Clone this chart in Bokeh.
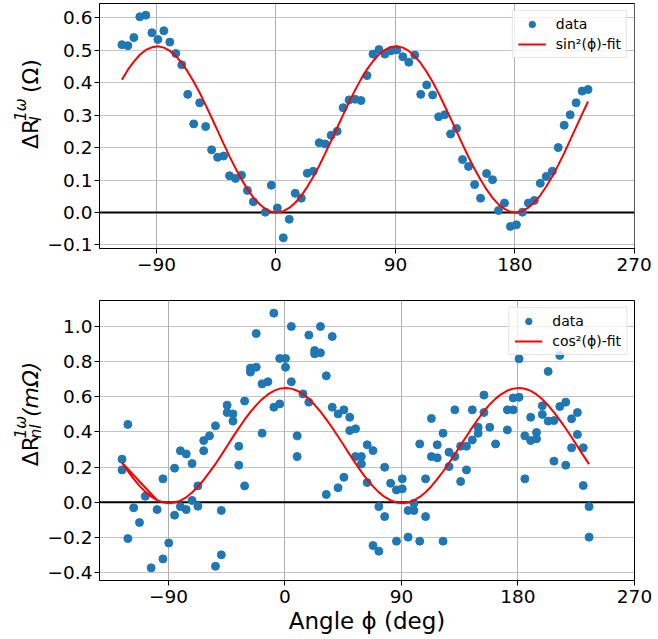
import math
from bokeh.plotting import figure
from bokeh.layouts import column, row
from bokeh.models import Span, Legend, LegendItem, FixedTicker, CustomJSTickFormatter
from bokeh.core.properties import value
from bokeh.embed import file_html
from bokeh.resources import INLINE

# ---------------- data: top panel ----------------
top_angle = [-116.1, -111.6, -107.1, -102.6, -98.1, -93.5, -89.0, -84.5, -80.0, -75.5,
             -71.0, -66.5, -62.0, -57.5, -53.0, -48.5, -44.0, -39.5, -35.0, -30.5,
             -26.0, -21.5, -17.0, -8.0, -3.5, 1.0, 5.5, 10.0, 14.5, 19.1,
             23.6, 28.1, 32.6, 37.1, 41.6, 46.1, 50.6, 55.1, 59.6, 64.1,
             68.6, 73.1, 77.6, 82.1, 86.6, 91.1, 95.6, 100.1, 104.6, 109.1,
             113.6, 118.1, 122.6, 127.1, 131.6, 136.1, 140.6, 145.1, 149.7, 154.2,
             158.7, 163.2, 167.7, 172.2, 176.7, 181.2, 185.7, 190.2, 194.7, 199.2,
             203.7, 208.2, 212.7, 217.2, 221.7, 226.2, 230.7, 235.2]
top_value = [0.517, 0.514, 0.539, 0.603, 0.608, 0.554, 0.533, 0.560, 0.525, 0.490,
             0.455, 0.364, 0.273, 0.338, 0.265, 0.193, 0.170, 0.174, 0.113, 0.105,
             0.115, 0.068, 0.033, 0.001, 0.084, 0.014, -0.078, -0.021, 0.059, 0.044,
             0.121, 0.127, 0.215, 0.211, 0.238, 0.250, 0.323, 0.347, 0.349, 0.345,
             0.422, 0.488, 0.502, 0.488, 0.498, 0.501, 0.480, 0.463, 0.485, 0.364,
             0.393, 0.362, 0.295, 0.301, 0.242, 0.259, 0.163, 0.142, 0.086, 0.044,
             0.120, 0.101, 0.006, 0.029, -0.043, -0.038, 0.001, 0.029, 0.037, 0.090,
             0.111, 0.127, 0.200, 0.269, 0.301, 0.338, 0.374, 0.379]
top_fit_angle = [-116.1, -111.6, -107.1, -102.6, -98.1, -93.5, -89.0, -84.5, -80.0, -75.5,
                 -71.0, -66.5, -62.0, -57.5, -53.0, -48.5, -44.0, -39.5, -35.0, -30.5,
                 -26.0, -21.5, -17.0, -12.5, -8.0, -3.5, 1.0, 5.5, 10.0, 14.5,
                 19.1, 23.6, 28.1, 32.6, 37.1, 41.6, 46.1, 50.6, 55.1, 59.6,
                 64.1, 68.6, 73.1, 77.6, 82.1, 86.6, 91.1, 95.6, 100.1, 104.6,
                 109.1, 113.6, 118.1, 122.6, 127.1, 131.6, 136.1, 140.6, 145.1, 149.7,
                 154.2, 158.7, 163.2, 167.7, 172.2, 176.7, 181.2, 185.7, 190.2, 194.7,
                 199.2, 203.7, 208.2, 212.7, 217.2, 221.7, 226.2, 230.7, 235.2]
top_fit = [0.409, 0.440, 0.465, 0.486, 0.501, 0.509, 0.512, 0.508, 0.498, 0.482,
           0.461, 0.434, 0.403, 0.369, 0.331, 0.292, 0.252, 0.212, 0.173, 0.136,
           0.102, 0.072, 0.046, 0.026, 0.011, 0.002, 0.000, 0.004, 0.014, 0.030,
           0.052, 0.079, 0.110, 0.144, 0.182, 0.221, 0.261, 0.301, 0.340, 0.377,
           0.411, 0.441, 0.466, 0.487, 0.501, 0.510, 0.512, 0.508, 0.498, 0.481,
           0.460, 0.433, 0.402, 0.367, 0.329, 0.290, 0.250, 0.210, 0.171, 0.134,
           0.101, 0.071, 0.045, 0.025, 0.011, 0.002, 0.000, 0.004, 0.015, 0.031,
           0.053, 0.080, 0.111, 0.146, 0.183, 0.223, 0.263, 0.303, 0.342]

# ---------------- data: bottom panel ----------------
bottom_angle = [-125.9, -125.9, -121.4, -121.4, -116.9, -112.4, -107.9, -103.4, -98.8, -94.3,
                -94.3, -89.8, -85.3, -85.3, -80.8, -80.8, -76.3, -76.3, -71.8, -71.8,
                -67.3, -67.3, -62.8, -62.8, -58.3, -53.7, -53.7, -49.2, -49.2, -44.7,
                -44.7, -40.2, -40.2, -35.7, -35.7, -31.2, -31.2, -26.7, -26.7, -22.2,
                -22.2, -17.7, -17.7, -13.2, -8.6, -8.6, -4.1, -4.1, 0.4, 0.4,
                4.9, 4.9, 9.4, 9.4, 13.9, 18.4, 18.4, 22.9, 22.9, 27.4,
                27.4, 31.9, 31.9, 36.5, 36.5, 41.0, 41.0, 45.5, 45.5, 50.0,
                50.0, 54.5, 54.5, 59.0, 59.0, 63.5, 63.5, 68.0, 68.0, 72.5,
                72.5, 77.0, 77.0, 81.6, 86.1, 86.1, 90.6, 90.6, 95.1, 95.1,
                99.6, 99.6, 104.1, 104.1, 108.6, 108.6, 113.1, 113.1, 117.6, 117.6,
                122.1, 122.1, 126.7, 126.7, 131.2, 131.2, 135.7, 135.7, 140.2, 140.2,
                144.7, 144.7, 149.2, 149.2, 153.7, 153.7, 158.2, 162.7, 171.8, 171.8,
                176.3, 176.3, 180.8, 180.8, 185.3, 185.3, 189.8, 189.8, 194.3, 194.3,
                198.8, 198.8, 203.3, 203.3, 207.8, 207.8, 212.3, 212.3, 216.9, 216.9,
                221.4, 221.4, 225.9, 225.9, 230.4, 230.4, 234.9, 234.9]
bottom_value = [0.245, 0.184, 0.443, -0.207, -0.032, -0.116, 0.034, -0.374, -0.042, 0.133,
                -0.323, -0.232, 0.194, -0.074, 0.293, -0.025, 0.275, -0.042, 0.220, 0.010,
                0.093, -0.023, 0.351, 0.293, 0.378, 0.435, -0.365, -0.047, -0.300, 0.553,
                0.511, 0.503, 0.462, 0.319, 0.211, 0.576, 0.093, 0.764, 0.741, 0.769,
                0.961, 0.674, 0.393, 0.686, 1.077, 0.541, 0.560, 0.819, 0.819, 0.769,
                1.001, 0.686, 0.378, 0.260, 0.617, 0.570, 0.952, 0.864, 0.845, 0.851,
                1.001, 0.720, 0.044, 0.944, 0.541, 0.503, 0.082, 0.526, 0.142, 0.484,
                0.408, 0.418, 0.260, 0.260, 0.218, 0.327, 0.112, 0.294, -0.247, -0.025,
                -0.279, 0.199, -0.082, 0.108, 0.070, -0.222, 0.133, 0.076, -0.047, -0.199,
                -0.006, -0.047, 0.332, -0.222, 0.133, -0.082, 0.477, 0.260, 0.327, 0.253,
                0.393, -0.222, 0.285, 0.203, 0.526, 0.260, 0.319, 0.118, 0.319, 0.184,
                0.526, 0.355, 0.427, 0.393, 0.610, 0.511, 0.427, 0.332, 0.526, 0.412,
                0.594, 0.526, 0.817, 0.598, 0.378, 0.133, 0.484, 0.351, 0.397, 0.361,
                0.549, 0.500, 0.745, 0.462, 0.234, 0.465, 0.836, 0.545, 0.570, 0.211,
                0.475, 0.310, 0.511, 0.386, 0.310, 0.095, -0.025, -0.199]
bottom_fit_angle = [-98.8, -125.9, -121.4, -116.9, -112.4, -107.9, -103.4, -98.8, -94.3, -89.8,
                    -85.3, -80.8, -76.3, -71.8, -67.3, -62.8, -58.3, -53.7, -49.2, -44.7,
                    -40.2, -35.7, -31.2, -26.7, -22.2, -17.7, -13.2, -8.6, -4.1, 0.4,
                    4.9, 9.4, 13.9, 18.4, 22.9, 27.4, 31.9, 36.5, 41.0, 45.5,
                    50.0, 54.5, 59.0, 63.5, 68.0, 72.5, 77.0, 81.6, 86.1, 90.6,
                    95.1, 99.6, 104.1, 108.6, 113.1, 117.6, 122.1, 126.7, 131.2, 135.7,
                    140.2, 144.7, 149.2, 153.7, 158.2, 162.7, 167.2, 171.8, 176.3, 180.8,
                    185.3, 189.8, 194.3, 198.8, 203.3, 207.8, 212.3, 216.9, 221.4, 225.9,
                    230.4, 234.9]
bottom_fit = [0.011, 0.225, 0.177, 0.133, 0.093, 0.059, 0.032, 0.011, -0.001, -0.006,
              -0.002, 0.009, 0.028, 0.055, 0.088, 0.127, 0.171, 0.218, 0.268, 0.320,
              0.372, 0.422, 0.470, 0.514, 0.553, 0.587, 0.614, 0.634, 0.647, 0.651,
              0.647, 0.635, 0.616, 0.589, 0.555, 0.516, 0.472, 0.424, 0.374, 0.323,
              0.271, 0.221, 0.173, 0.129, 0.090, 0.056, 0.030, 0.010, -0.002, -0.006,
              -0.002, 0.010, 0.030, 0.057, 0.091, 0.131, 0.175, 0.223, 0.273, 0.325,
              0.376, 0.426, 0.474, 0.518, 0.557, 0.590, 0.616, 0.636, 0.647, 0.651,
              0.646, 0.634, 0.614, 0.586, 0.552, 0.512, 0.468, 0.420, 0.370, 0.318,
              0.267, 0.217]

x_ticks = [-90, 0, 90, 180, 270]
top_y_ticks = [-0.1, 0.0, 0.1, 0.2, 0.3, 0.4, 0.5, 0.6]
bottom_y_ticks = [-0.4, -0.2, 0.0, 0.2, 0.4, 0.6, 0.8, 1.0]

top_x_range = (-133.0, 270.2)
top_y_range = (-0.111, 0.644)
bottom_x_range = (-143.3, 270.0)
bottom_y_range = (-0.446, 1.149)

FONT = "DejaVu Sans"
BLUE = "#1f77b4"
LW = 44              # width of the strip holding the y-axis title
BL, FW, BR = 53, 537, 20
W = BL + FW + BR     # width of each plotting figure
X_BASE = 29.5        # baseline of the rotated y title inside the strip


def make_fig(xr, yr, height, btop, bbot, yticks):
    p = figure(width=W, height=height, x_range=xr, y_range=yr,
               output_backend="svg", toolbar_location=None,
               min_border_left=BL, min_border_right=BR,
               min_border_top=btop, min_border_bottom=bbot)
    p.background_fill_color = "white"
    p.border_fill_color = "white"
    p.outline_line_color = "black"
    p.outline_line_width = 1
    p.outline_line_alpha = 1.0
    p.xaxis.ticker = FixedTicker(ticks=x_ticks)
    p.yaxis.ticker = FixedTicker(ticks=yticks)
    p.xgrid.ticker = FixedTicker(ticks=x_ticks)
    p.ygrid.ticker = FixedTicker(ticks=yticks)
    p.xaxis.formatter = CustomJSTickFormatter(code="return tick.toFixed(0).replace('-', '\u2212');")
    p.yaxis.formatter = CustomJSTickFormatter(code="return tick.toFixed(1).replace('-', '\u2212');")
    for ax in (p.xaxis[0], p.yaxis[0]):
        ax.axis_line_color = "black"
        ax.major_tick_line_color = "black"
        ax.major_tick_out = 5
        ax.major_tick_in = 0
        ax.minor_tick_line_color = None
        ax.major_label_text_font = FONT
        ax.major_label_text_font_size = "18.5px"
        ax.major_label_text_color = "black"
    p.xaxis.major_label_standoff = 4
    p.yaxis.major_label_standoff = 2
    for g in (p.xgrid[0], p.ygrid[0]):
        g.grid_line_color = "#b0b0b0"
        g.grid_line_width = 1
    p.ygrid.grid_line_alpha = 0.75
    return p


def make_title_strip(height, frame_bottom, pieces):
    s = figure(width=LW, height=height, x_range=(0, LW), y_range=(0, height),
               x_axis_type=None, y_axis_type=None, output_backend="svg",
               toolbar_location=None, min_border=0)
    s.outline_line_color = None
    s.background_fill_color = "white"
    s.border_fill_color = "white"
    for text, style, size, dx, dy in pieces:
        s.text(x=[X_BASE + dx], y=[frame_bottom + dy], text=[text],
               angle=math.pi / 2, text_font=value(FONT),
               text_font_size=value(f"{size}px"), text_font_style=value(style),
               text_color="black", text_align="left", text_baseline="alphabetic")
    return s


def add_legend(p, r_data, r_fit, fit_label):
    leg = Legend(items=[LegendItem(label="data", renderers=[r_data]),
                        LegendItem(label=fit_label, renderers=[r_fit])],
                 location="top_right", margin=7, padding=5, spacing=4,
                 glyph_width=28, glyph_height=16, label_height=16,
                 label_standoff=10, label_text_font=FONT,
                 label_text_font_size="14px", label_text_color="black",
                 border_line_color="#cccccc", border_line_width=1,
                 background_fill_color="white", background_fill_alpha=0.8)
    p.add_layout(leg)


# ---------------- top figure ----------------
H1, T1, B1 = 298, 3, 50
p1 = make_fig(top_x_range, top_y_range, H1, T1, B1, top_y_ticks)
p1.add_layout(Span(location=0, dimension="width", line_color="black",
                   line_width=2, level="underlay"))
r1 = p1.scatter(top_angle, top_value, size=8, color=BLUE)
r2 = p1.line(top_fit_angle, top_fit, line_color="red", line_width=2)
add_legend(p1, r1, r2, "sin²(ϕ)-fit")
s1 = 71
strip1 = make_title_strip(H1, B1, [
    ("ΔR", "normal", 22, 0, s1),
    ("l", "italic", 15.4, 6, s1 + 34),
    ("1ω", "italic", 15.4, -9.5, s1 + 34),
    ("(Ω)", "normal", 22, 0, s1 + 68),
])

# ---------------- bottom figure ----------------
H2, T2, B2 = 341, 2, 59
p2 = make_fig(bottom_x_range, bottom_y_range, H2, T2, B2, bottom_y_ticks)
p2.add_layout(Span(location=0, dimension="width", line_color="black",
                   line_width=2, level="underlay"))
r3 = p2.scatter(bottom_angle, bottom_value, size=8, color=BLUE)
r4 = p2.line(bottom_fit_angle, bottom_fit, line_color="red", line_width=2)
add_legend(p2, r3, r4, "cos²(ϕ)-fit")
p2.xaxis.axis_label = "Angle ϕ (deg)"
p2.xaxis.axis_label_text_font = FONT
p2.xaxis.axis_label_text_font_size = "23px"
p2.xaxis.axis_label_text_font_style = "normal"
p2.xaxis.axis_label_text_color = "black"
p2.xaxis.axis_label_standoff = 2
s2 = 80
strip2 = make_title_strip(H2, B2, [
    ("ΔR", "normal", 22, 0, s2),
    ("nl", "italic", 15.4, 6, s2 + 34),
    ("1ω", "italic", 15.4, -9.5, s2 + 34),
    ("(mΩ)", "italic", 22, 0, s2 + 60),
])

layout = column(row(strip1, p1, spacing=0), row(strip2, p2, spacing=0), spacing=0)
open("out.html", "w").write(file_html(layout, INLINE))
